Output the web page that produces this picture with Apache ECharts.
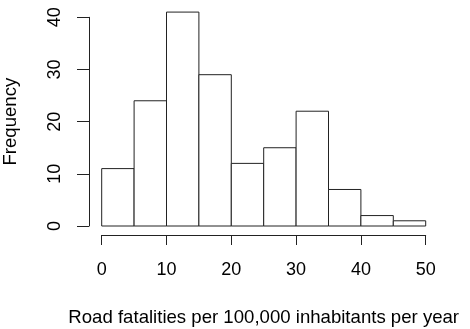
<!DOCTYPE html>
<html>
<head>
<meta charset="utf-8">
<script src="https://cdn.jsdelivr.net/npm/echarts@6/dist/echarts.min.js"></script>
<style>html,body{margin:0;padding:0;background:#fff}#c{width:470px;height:329px}</style>
</head>
<body>
<div id="c"></div>
<script>
var binStarts = [0, 5, 10, 15, 20, 25, 30, 35, 40, 45];
var binEnds = [5, 10, 15, 20, 25, 30, 35, 40, 45, 50];
var counts = [11, 24, 41, 29, 12, 15, 22, 7, 2, 1];
var xTicks = [0, 10, 20, 30, 40, 50];
var yTicks = [0, 10, 20, 30, 40];

var data = binStarts.map(function (s, i) { return [s, binEnds[i], counts[i]]; });
var font = 'Liberation Sans, Arial, Helvetica, sans-serif';
var lineCol = '#222';

var chart = echarts.init(document.getElementById('c'), null, {renderer: 'canvas'});
chart.setOption({
  animation: false,
  backgroundColor: '#fff',
  grid: {left: 101.7, right: 44.3, top: 17.3, bottom: 103, containLabel: false, outerBoundsMode: 'none'},
  xAxis: {
    type: 'value', min: 0, max: 50, interval: 10, offset: 9,
    name: 'Road fatalities per 100,000 inhabitants per year',
    nameLocation: 'middle', nameGap: 73,
    nameTextStyle: {fontFamily: font, fontSize: 18.6, color: '#000'},
    axisLine: {show: true, onZero: false, lineStyle: {color: lineCol, width: 1}},
    axisTick: {show: true, inside: false, length: 10, lineStyle: {color: lineCol}},
    axisLabel: {margin: 26, fontFamily: font, fontSize: 18, color: '#000',
      formatter: function (v) { return xTicks.indexOf(v) >= 0 ? String(v) : ''; }},
    splitLine: {show: false}
  },
  yAxis: {
    type: 'value', min: 0, max: 40, interval: 10, offset: 12.7,
    name: 'Frequency', nameLocation: 'middle', nameGap: 69,
    nameTextStyle: {fontFamily: font, fontSize: 18.6, color: '#000'},
    axisLine: {show: true, onZero: false, lineStyle: {color: lineCol, width: 1}},
    axisTick: {show: true, inside: false, length: 12, lineStyle: {color: lineCol}},
    axisLabel: {margin: 25, rotate: 90, fontFamily: font, fontSize: 18, color: '#000',
      formatter: function (v) { return yTicks.indexOf(v) >= 0 ? String(v) : ''; }},
    splitLine: {show: false}
  },
  series: [{
    type: 'custom',
    clip: false,
    data: data,
    renderItem: function (params, api) {
      var p0 = api.coord([api.value(0), 0]);
      var p1 = api.coord([api.value(1), api.value(2)]);
      return {
        type: 'rect',
        shape: {x: p0[0], y: p1[1], width: p1[0] - p0[0], height: p0[1] - p1[1]},
        style: {fill: '#fff', stroke: lineCol, lineWidth: 1}
      };
    },
    encode: {x: [0, 1], y: 2}
  }]
});
</script>
</body>
</html>
